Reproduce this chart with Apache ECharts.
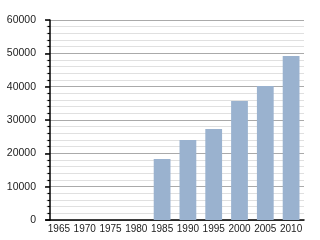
<!DOCTYPE html>
<html><head><meta charset="utf-8">
<script src="https://cdn.jsdelivr.net/npm/echarts@6/dist/echarts.min.js"></script>
<style>html,body{margin:0;padding:0;background:#fff}#c{width:320px;height:240px}</style>
</head><body><div id="c"></div>
<script>
var categories = ['1965','1970','1975','1980','1985','1990','1995','2000','2005','2010'];
var population = [null, null, null, null, 18300, 24000, 27300, 35700, 40200, 49200];
var yTicks = [0, 10000, 20000, 30000, 40000, 50000, 60000];

var chart = echarts.init(document.getElementById('c'), null, {renderer: 'canvas'});
chart.setOption({
  animation: false,
  grid: {left: 46, right: 16, top: 20, bottom: 20},
  xAxis: {
    type: 'category',
    data: categories,
    axisLine: {lineStyle: {color: '#000', width: 1.5}},
    axisTick: {show: false},
    axisLabel: {color: '#222', fontFamily: 'Liberation Sans, Arial', fontSize: 10, margin: 4, interval: 0}
  },
  yAxis: {
    type: 'value',
    min: yTicks[0], max: yTicks[yTicks.length - 1], interval: 10000,
    offset: -4,
    axisLine: {show: true, lineStyle: {color: '#000', width: 1.5}},
    axisTick: {show: true, length: 5, lineStyle: {color: '#000', width: 1.5}},
    minorTick: {show: true, splitNumber: 5, length: 2.5, lineStyle: {color: '#000', width: 1.2}},
    splitLine: {show: true, lineStyle: {color: '#aaaaaa', width: 1}},
    minorSplitLine: {show: true, lineStyle: {color: '#e0e0e0', width: 1}},
    axisLabel: {color: '#222', fontFamily: 'Liberation Sans, Arial', fontSize: 10.5, margin: 14,
      formatter: function (v) { return String(v); }}
  },
  series: [{
    type: 'bar',
    data: population,
    barCategoryGap: '35%',
    itemStyle: {color: '#9ab2cf'}
  }]
});
</script></body></html>
